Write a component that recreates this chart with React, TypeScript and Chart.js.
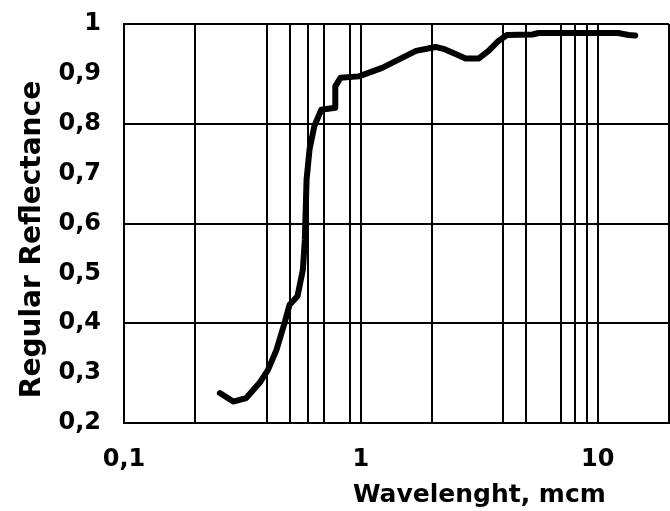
import React, { useEffect, useRef } from "react";
import { Chart, registerables } from "chart.js";

Chart.register(...registerables);

// Measured spectrum: wavelength (µm) and regular reflectance
const wavelength = [
  0.254, 0.289, 0.328, 0.373, 0.405, 0.44, 0.476, 0.5, 0.54, 0.569, 0.58, 0.59,
  0.607, 0.636, 0.68, 0.78, 0.78, 0.82, 0.98, 1.23, 1.45, 1.71, 2.07, 2.27,
  2.51, 2.77, 3.15, 3.46, 3.81, 4.14, 5.3, 5.63, 9.5, 12.2, 13.5, 14.4,
];
const reflectance = [
  0.26, 0.243, 0.25, 0.28, 0.306, 0.346, 0.4, 0.437, 0.454, 0.507, 0.567, 0.688,
  0.748, 0.795, 0.828, 0.832, 0.875, 0.892, 0.895, 0.912, 0.929, 0.946, 0.954,
  0.949, 0.94, 0.931, 0.931, 0.946, 0.966, 0.978, 0.979, 0.982, 0.982, 0.982,
  0.978, 0.977,
];

// Vertical grid positions on the log axis, and the ones that carry a label
const xGridValues = [0.1, 0.2, 0.4, 0.5, 0.6, 0.7, 0.9, 1, 2, 4, 5, 7, 8, 9, 10, 20];
const xLabelValues = [0.1, 1, 10];
const xMin = 0.1;
const xMax = 20;
const yMin = 0.2;
const yMax = 1;
const yStep = 0.1;

const xTitle = "Wavelenght, mcm";
const yTitle = "Regular Reflectance";

const FONT = '"DejaVu Sans", "Liberation Sans", Arial, sans-serif';

const commaNumber = (v: number) => {
  if (Math.abs(v - Math.round(v)) < 1e-9) return String(Math.round(v));
  return String(+v.toFixed(1)).replace(".", ",");
};

// Keep the plot box fixed: no extra room reserved for overhanging labels
const noLabelPadding = (scale: any) => {
  scale.paddingLeft = 0;
  scale.paddingRight = 0;
  scale.paddingTop = 0;
  scale.paddingBottom = 0;
};

const axisTitles = {
  id: "axisTitles",
  afterDraw(chart: any) {
    const { ctx, chartArea } = chart;
    ctx.save();
    ctx.fillStyle = "#000";
    ctx.font = `bold 25px ${FONT}`;
    ctx.textAlign = "center";
    ctx.textBaseline = "alphabetic";
    const w = chartArea.right - chartArea.left;
    ctx.fillText(xTitle, chartArea.left + w * 0.652, chartArea.bottom + 79);
    ctx.translate(40, (chartArea.top + chartArea.bottom) / 2 + 16);
    ctx.rotate(-Math.PI / 2);
    ctx.font = `bold 28px ${FONT}`;
    ctx.fillText(yTitle, 0, 0);
    ctx.restore();
  },
};

export default function App() {
  const canvasRef = useRef<HTMLCanvasElement | null>(null);

  useEffect(() => {
    if (!canvasRef.current) return;
    const points = wavelength.map((x, i) => ({ x, y: reflectance[i] }));
    const chart = new Chart(canvasRef.current, {
      type: "line",
      data: {
        datasets: [
          {
            data: points,
            borderColor: "#000",
            borderWidth: 6,
            pointRadius: 0,
            tension: 0,
            fill: false,
            borderCapStyle: "round",
            borderJoinStyle: "round",
          },
        ],
      },
      plugins: [axisTitles],
      options: {
        responsive: false,
        animation: false,
        layout: { padding: { top: 24, right: 1, left: 0, bottom: 0 } },
        plugins: {
          legend: { display: false },
          tooltip: { enabled: false },
          title: { display: false },
        },
        scales: {
          x: {
            type: "logarithmic",
            min: xMin,
            max: xMax,
            afterBuildTicks(scale: any) {
              scale.ticks = xGridValues.map((value) => ({ value }));
            },
            afterFit(scale: any) {
              scale.height = 88;
              noLabelPadding(scale);
            },
            border: { display: true, color: "#000", width: 2 },
            grid: {
              color: "#000",
              lineWidth: 2,
              drawTicks: false,
            },
            ticks: {
              autoSkip: false,
              maxRotation: 0,
              padding: 22,
              color: "#000",
              font: { family: FONT, size: 24, weight: "bold" },
              callback: (value: any) => {
                const v = Number(value);
                return xLabelValues.some((l) => Math.abs(l - v) < 1e-9)
                  ? commaNumber(v)
                  : "";
              },
            },
          },
          y: {
            type: "linear",
            min: yMin,
            max: yMax,
            afterFit(scale: any) {
              scale.width = 124;
              noLabelPadding(scale);
            },
            border: { display: true, color: "#000", width: 2 },
            grid: {
              lineWidth: 2,
              drawTicks: false,
              color: (ctx: any) =>
                Math.round(ctx.tick.value * 10) % 2 === 0 ? "#000" : "rgba(0,0,0,0)",
            },
            ticks: {
              stepSize: yStep,
              padding: 23,
              color: "#000",
              font: { family: FONT, size: 24, weight: "bold" },
              callback: (value: any) => commaNumber(Number(value)),
            },
          },
        },
      },
    });
    return () => chart.destroy();
  }, []);

  return (
    <div style={{ position: "absolute", left: 0, top: 0, width: 670, height: 511, background: "#fff" }}>
      <canvas ref={canvasRef} width={670} height={511} />
    </div>
  );
}
